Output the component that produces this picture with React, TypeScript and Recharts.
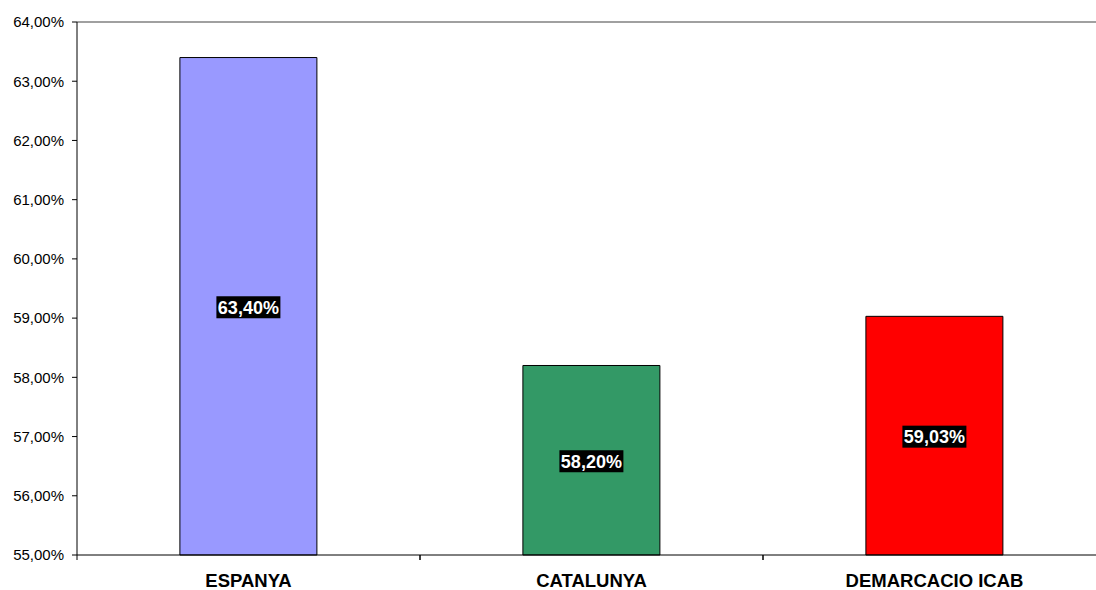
import { BarChart, Bar, XAxis, YAxis, Cell, LabelList, ReferenceLine } from "recharts";

const regions = ["ESPANYA", "CATALUNYA", "DEMARCACIO ICAB"];
const shares = [0.634, 0.582, 0.5903];
const barColors = ["#9999FF", "#339966", "#FF0000"];
const yTicks = [0.55, 0.56, 0.57, 0.58, 0.59, 0.6, 0.61, 0.62, 0.63, 0.64];

const data = regions.map((name, i) => ({ name, value: shares[i] }));

const CHART_W = 1106;
const AXIS_W = 77;
const BAND = (CHART_W - AXIS_W) / regions.length;

const pct = (v: number) => (v * 100).toFixed(2).replace(".", ",") + "%";

const font = "'Liberation Sans', Arial, sans-serif";

function CategoryTick(props: any) {
  const { x, y, payload } = props;
  const left = x - BAND / 2;
  return (
    <g>
      <line x1={left} y1={y - 5} x2={left} y2={y} stroke="#000" />
      <line x1={left + BAND} y1={y - 5} x2={left + BAND} y2={y} stroke="#000" />
      <text x={x} y={y + 26.5} textAnchor="middle" fontFamily={font} fontWeight="bold" fontSize={18.5} fill="#000">
        {payload.value}
      </text>
    </g>
  );
}

function ValueLabel(props: any) {
  const { x, y, width, height, value } = props;
  const cx = x + width / 2;
  const cy = y + height / 2;
  return (
    <g>
      <rect x={cx - 32} y={cy - 10} width={64} height={22} fill="#000" />
      <text x={cx} y={cy + 7.5} textAnchor="middle" fontFamily={font} fontWeight="bold" fontSize={18} fill="#fff">
        {pct(value)}
      </text>
    </g>
  );
}

export default function App() {
  return (
    <div style={{ position: "absolute", left: 0, top: 0, width: 1096, height: 590, overflow: "hidden", background: "#fff" }}>
      <BarChart width={CHART_W} height={590} data={data} margin={{ top: 22, right: 0, left: 0, bottom: 0 }} barCategoryGap="30%">
        <ReferenceLine y={0.64} stroke="#808080" strokeWidth={1.5} />
        <XAxis
          dataKey="name"
          height={35}
          stroke="#000"
          tickLine={false}
          tickSize={5}
          tickMargin={0}
          interval={0}
          tick={<CategoryTick />}
        />
        <YAxis
          width={AXIS_W}
          domain={[0.55, 0.64]}
          ticks={yTicks}
          stroke="#000"
          tickSize={5}
          tickMargin={8}
          tickFormatter={pct}
          tick={{ fontFamily: font, fontSize: 15, fill: "#000" }}
        />
        <Bar dataKey="value" stroke="#000" strokeWidth={1} isAnimationActive={false}>
          {data.map((d, i) => (
            <Cell key={d.name} fill={barColors[i]} />
          ))}
          <LabelList dataKey="value" content={<ValueLabel />} />
        </Bar>
      </BarChart>
    </div>
  );
}
